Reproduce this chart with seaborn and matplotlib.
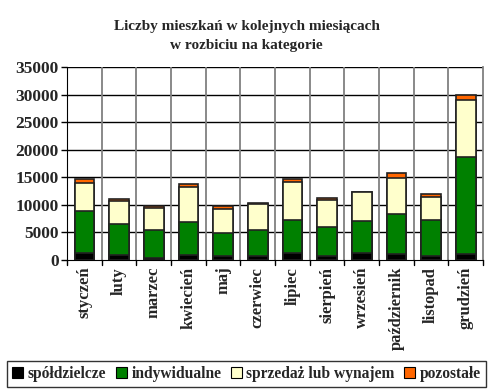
import numpy as np
import pandas as pd
import matplotlib
matplotlib.use("Agg")
import matplotlib.pyplot as plt
import seaborn as sns
from matplotlib.patches import Patch

months = ["styczeń", "luty", "marzec", "kwiecień", "maj", "czerwiec", "lipiec",
          "sierpień", "wrzesień", "październik", "listopad", "grudzień"]
spoldzielcze = [1200, 900, 400, 900, 750, 750, 1300, 750, 1300, 1100, 750, 1100]
indywidualne = [7600, 5700, 4950, 6000, 4200, 4600, 5950, 5300, 5800, 7300, 6500, 17500]
sprzedaz = [5200, 4100, 4050, 6250, 4250, 4800, 6800, 4800, 5200, 6550, 4250, 10500]
pozostale = [700, 300, 450, 600, 650, 200, 650, 400, 50, 850, 500, 900]
series = ["spółdzielcze", "indywidualne", "sprzedaż lub wynajem", "pozostałe"]
colors = ["#000000", "#008000", "#FFFFCC", "#FF6600"]

sns.set_style("white")
plt.rcParams["font.family"] = ["Liberation Serif", "DejaVu Serif"]
plt.rcParams["font.weight"] = "bold"

df = pd.DataFrame({"miesiac": months, series[0]: spoldzielcze, series[1]: indywidualne,
                   series[2]: sprzedaz, series[3]: pozostale})
cum = df[series].cumsum(axis=1)

fig = plt.figure(figsize=(4.93, 3.92), dpi=100)
ax = fig.add_axes([0.136, 0.337, 0.844, 0.492])

# draw cumulative layers from top down so they stack visually
for s, c in zip(series[::-1], colors[::-1]):
    sns.barplot(x=df["miesiac"], y=cum[s], color=c, edgecolor="#222222",
                linewidth=1.2, width=0.57, saturation=1, ax=ax, zorder=3)

ax.set_ylim(0, 35000)
ax.set_xlim(-0.5, len(months) - 0.5)
ax.set_yticks(np.arange(0, 35001, 5000))
ax.set_yticklabels([str(v) for v in range(0, 35001, 5000)], fontsize=12.5, fontweight="bold")
ax.set_xticks(range(len(months)))
ax.set_xticklabels(months, rotation=90, fontsize=12, fontweight="bold")
ax.tick_params(axis="x", length=0, pad=5)
ax.tick_params(axis="y", length=4, direction="out", left=True, width=1, color="black", pad=2)
ax.set_xlabel("")
ax.set_ylabel("")

for y in range(5000, 35001, 5000):
    ax.axhline(y, color="black", lw=1, zorder=1)
for x in np.arange(0.5, len(months) - 0.5, 1):
    ax.axvline(x, color="#808080", lw=1.3, zorder=1)
# tick marks between categories on the bottom
for x in np.arange(-0.5, len(months) + 0.5, 1):
    ax.plot([x, x], [0, -1000], color="black", lw=1, clip_on=False, zorder=4)

ax.spines["top"].set_visible(False)
ax.spines["right"].set_color("#808080")
ax.spines["right"].set_linewidth(1.3)
ax.spines["left"].set_color("black")
ax.spines["bottom"].set_color("black")

fig.suptitle("Liczby mieszkań w kolejnych miesiącach\nw rozbiciu na kategorie",
             x=0.5, y=0.948, fontsize=11, fontweight="bold", linespacing=1.55)

handles = [Patch(facecolor=c, edgecolor="black", linewidth=0.8) for c in colors]
leg = fig.legend(handles, series, loc="center", bbox_to_anchor=(0.5, 0.046),
                 ncol=4, fontsize=11.2, frameon=True, fancybox=False, edgecolor="black",
                 handlelength=0.7, handleheight=0.7, handletextpad=0.3, columnspacing=0.6,
                 borderpad=0.35)
leg.get_frame().set_linewidth(1)

fig.savefig("out.png", dpi=100)
